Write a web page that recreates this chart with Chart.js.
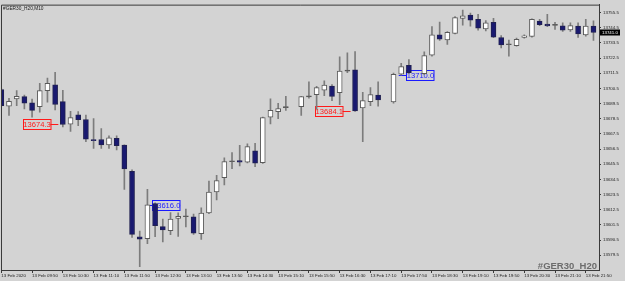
<!DOCTYPE html>
<html>
<head>
<meta charset="utf-8">
<script src="https://cdn.jsdelivr.net/npm/chart.js@4.4.1/dist/chart.umd.min.js"></script>
<style>
  html, body { margin: 0; padding: 0; background: #d3d3d3; }
  canvas { display: block; }
</style>
</head>
<body>
<canvas id="chart" width="625" height="281"></canvas>
<script>
// GER30 M10 candles, bar index 0 = 13 Feb 09:10 (null = no bar drawn)
const opens = [
  13699.7, 13687.5, 13692.8, 13694.5, 13690.0, 13687.3, 13698.8, 13703.1, 13690.9, 13674.5,
  13681.3, 13677.9, 13663.4, 13663.4, 13659.4, 13664.2, 13659.3, 13640.3, 13592.9, 13591.5,
  13617.0, 13600.3, 13597.3, 13606.2, 13607.4, 13607.4, 13595.1, 13610.1, 13625.5, 13635.7,
  13647.3, 13648.2, 13647.0, 13655.2, 13646.6, 13679.7, 13683.6, 13686.5, null,    13687.3,
  13694.3, 13695.9, 13699.2, 13702.2, 13697.4, 13713.0, 13714.0, 13686.3, 13690.9, 13695.6,
  null,    13690.6, 13710.8, 13717.2, null,    13711.2, 13724.6, 13739.3, 13735.7, 13740.3,
  13751.2, 13753.6, 13750.5, 13743.6, 13748.4, 13737.4, 13732.1, 13731.4, 13737.5, 13738.1,
  13749.3, 13747.1, 13746.2, 13745.9, 13742.8, 13745.7, 13739.3, 13745.7
];
const highs = [
  13700.4, 13693.3, 13698.8, 13695.6, 13692.8, 13704.2, 13707.9, 13712.1, 13699.0, 13683.8,
  13683.7, 13681.1, 13678.5, 13671.3, 13666.1, 13666.1, 13659.6, 13641.4, 13597.1, 13627.3,
  13617.5, 13605.8, 13610.5, 13610.2, 13612.9, 13609.4, 13613.9, 13633.2, 13637.5, 13650.2,
  13653.9, 13659.2, 13660.2, 13660.6, 13679.7, 13692.9, 13689.7, 13694.7, null,    13694.7,
  13705.2, 13701.9, 13705.9, 13703.3, 13723.3, 13726.2, 13727.1, 13697.6, 13701.1, 13705.2,
  null,    13711.5, 13718.7, 13721.4, null,    13727.0, 13745.3, 13748.6, 13741.7, 13752.6,
  13757.2, 13755.1, 13754.1, 13749.6, 13751.2, 13738.8, 13735.5, 13736.9, 13739.3, 13750.9,
  13750.5, 13754.1, 13748.4, 13748.1, 13748.1, 13748.1, 13750.5, 13749.4
];
const lows = [
  13687.5, 13680.9, 13688.0, 13685.6, 13679.7, 13683.3, 13690.4, 13684.8, 13672.5, 13669.2,
  13673.5, 13661.8, 13657.0, 13657.0, 13657.0, 13655.9, 13627.3, 13592.4, 13571.2, 13587.9,
  13592.9, 13589.1, 13594.4, 13593.1, 13600.1, 13594.6, 13591.0, 13609.6, 13619.7, 13630.5,
  13642.3, 13644.3, 13646.4, 13643.7, 13646.1, 13674.7, 13678.6, 13684.5, null,    13680.9,
  13693.3, 13685.4, 13695.2, 13691.6, 13688.6, 13711.9, 13683.8, 13661.8, 13688.0, 13687.5,
  null,    13689.7, 13710.0, 13711.2, null,    13710.4, 13723.8, 13735.3, 13732.4, 13740.0,
  13746.4, 13745.6, 13742.6, 13742.1, 13737.3, 13729.8, 13723.8, 13731.0, 13736.9, 13737.7,
  13746.0, 13745.3, 13743.3, 13741.7, 13741.7, 13737.4, 13738.3, 13735.3
];
const closes = [
  13688.0, 13691.1, 13694.7, 13689.7, 13684.5, 13698.8, 13704.2, 13688.8, 13674.3, 13679.3,
  13677.8, 13663.6, 13662.5, 13659.4, 13664.7, 13658.9, 13642.0, 13594.6, 13591.2, 13616.0,
  13601.0, 13597.8, 13605.8, 13607.7, 13607.5, 13595.5, 13610.1, 13625.3, 13633.7, 13647.5,
  13647.4, 13647.0, 13658.2, 13646.3, 13679.3, 13684.5, 13685.9, 13686.7, null,    13694.5,
  13694.4, 13701.0, 13702.8, 13694.6, 13713.1, 13713.1, 13684.1, 13691.6, 13695.9, 13692.1,
  null,    13710.6, 13716.2, 13711.9, null,    13724.2, 13739.3, 13736.2, 13741.2, 13751.8,
  13753.1, 13750.0, 13744.1, 13748.1, 13737.6, 13732.0, 13732.2, 13736.0, 13738.6, 13750.5,
  13746.6, 13745.7, 13746.3, 13742.6, 13746.0, 13740.0, 13745.7, 13741.0
];

// time axis labels, one every 4 bars
const xTickBars = [0, 4, 8, 12, 16, 20, 24, 28, 32, 36, 40, 44, 48, 52, 56, 60, 64, 68, 72, 76];
const xLabels = [
  '13 Feb 2020', '13 Feb 09:50', '13 Feb 10:30', '13 Feb 11:10', '13 Feb 11:50',
  '13 Feb 12:30', '13 Feb 13:10', '13 Feb 13:50', '13 Feb 14:30', '13 Feb 15:10',
  '13 Feb 15:50', '13 Feb 16:30', '13 Feb 17:10', '13 Feb 17:50', '13 Feb 18:30',
  '13 Feb 19:10', '13 Feb 19:50', '13 Feb 20:30', '13 Feb 21:10', '13 Feb 21:50'
];
const yTicks = [
  13579.5, 13590.5, 13601.5, 13612.5, 13623.5, 13634.5, 13645.5, 13656.5, 13667.5,
  13678.5, 13689.5, 13700.5, 13711.5, 13722.5, 13733.5, 13744.5, 13755.5
];

// price tags drawn on the chart
const tagBars = [8, 46, 19, 52];
const tagValues = [13674.3, 13684.1, 13616.0, 13710.0];
const tagColors = ['#ff1a1a', '#ff1a1a', '#1a1aff', '#1a1aff'];
const tagSides = ['left', 'left', 'right', 'right'];

const symbolTitle = '#GER30_H20,M10';
const watermark = '#GER30_H20';
const lastPrice = 13741.0;

const FG = '#3a3a3a';
const BEAR = '#191970';
const WICK = '#7c7c7c';

const idx = opens.map((o, k) => k).filter(k => opens[k] !== null);
const wickData = idx.map(k => ({ x: k, y: [lows[k], highs[k]] }));
const bodyData = idx.map(k => ({ x: k, y: [Math.min(opens[k], closes[k]), Math.max(opens[k], closes[k])] }));
const bodyFill = idx.map(k => {
  const d = closes[k] - opens[k];
  return d > 0.25 ? '#ffffff' : d < -0.25 ? BEAR : '#505050';
});
const bodyBorder = idx.map(k => (closes[k] < opens[k] - 0.25 ? '#202050' : '#5a5a5a'));

const decor = {
  id: 'decor',
  beforeDatasetsDraw(chart) {
    const { ctx } = chart;
    const xs = chart.scales.x, ys = chart.scales.y;
    ctx.save();
    ctx.font = '7.6px "Liberation Sans", Arial, sans-serif';
    ctx.textBaseline = 'middle';
    ctx.lineWidth = 1;
    tagBars.forEach((b, i) => {
      const cx = xs.getPixelForValue(b);
      const py = Math.round(ys.getPixelForValue(tagValues[i])) + 0.5;
      const w = 27.5, h = 10;
      let bx, l1, l2;
      if (tagSides[i] === 'left') {
        bx = cx - 12.5 - w; l1 = cx - 12.5; l2 = cx - 4.5;
      } else {
        bx = cx + 5; l1 = cx - 2.5; l2 = cx + 5;
      }
      ctx.strokeStyle = tagColors[i];
      ctx.beginPath();
      ctx.moveTo(l1, py); ctx.lineTo(l2, py);
      ctx.stroke();
      ctx.strokeRect(Math.round(bx) + 0.5, py - h / 2, w, h);
      ctx.fillStyle = tagColors[i];
      ctx.textAlign = 'center';
      ctx.fillText(tagValues[i].toFixed(1), bx + w / 2 + 0.5, py + 0.5);
    });
    ctx.restore();
  },
  afterDraw(chart) {
    const { ctx, chartArea: a } = chart;
    const ys = chart.scales.y;
    ctx.save();
    ctx.strokeStyle = FG;
    ctx.lineWidth = 1;
    ctx.beginPath();
    ctx.moveTo(a.left + 0.5, a.bottom);
    ctx.lineTo(a.left + 0.5, a.top + 0.5);
    ctx.lineTo(a.right, a.top + 0.5);
    ctx.stroke();

    ctx.fillStyle = '#222';
    ctx.font = '4.8px "Liberation Sans", Arial, sans-serif';
    ctx.textAlign = 'left';
    ctx.textBaseline = 'middle';
    ctx.fillText(symbolTitle, a.left + 2, a.top + 4);

    ctx.fillStyle = '#6c6c6c';
    ctx.font = 'bold 9.5px "Liberation Sans", Arial, sans-serif';
    ctx.textAlign = 'right';
    ctx.textBaseline = 'alphabetic';
    ctx.fillText(watermark, a.right - 2, a.bottom - 1.5);

    const py = ys.getPixelForValue(lastPrice);
    ctx.fillStyle = '#000';
    ctx.fillRect(a.right + 1, py - 3, 20, 6);
    ctx.fillStyle = '#fff';
    ctx.font = '4.4px "Liberation Sans", Arial, sans-serif';
    ctx.textAlign = 'left';
    ctx.textBaseline = 'middle';
    ctx.fillText(lastPrice.toFixed(1), a.right + 3, py + 0.3);
    ctx.restore();
  }
};

new Chart(document.getElementById('chart'), {
  type: 'bar',
  data: {
    datasets: [
      {
        label: 'body',
        data: bodyData,
        order: 0,
        grouped: false,
        barThickness: 5,
        minBarLength: 1,
        borderWidth: 1,
        borderSkipped: false,
        backgroundColor: bodyFill,
        borderColor: bodyBorder,
        clip: 0
      },
      {
        label: 'wick',
        data: wickData,
        order: 1,
        grouped: false,
        barThickness: 1,
        borderWidth: 0,
        backgroundColor: WICK,
        clip: 0
      }
    ]
  },
  options: {
    responsive: false,
    animation: false,
    devicePixelRatio: 1,
    layout: { padding: { left: 1, top: 1, right: 0, bottom: 0 } },
    plugins: { legend: { display: false }, tooltip: { enabled: false } },
    scales: {
      x: {
        type: 'linear',
        min: -0.04,
        max: 77.72,
        offset: false,
        afterFit: s => { s.height = 11; },
        afterBuildTicks: s => { s.ticks = xTickBars.map(v => ({ value: v })); },
        grid: { offset: false, drawOnChartArea: false, tickLength: 3, color: FG },
        border: { display: true, color: FG },
        ticks: {
          autoSkip: false,
          maxRotation: 0,
          align: 'start',
          padding: 0,
          color: '#222',
          font: { family: '"Liberation Sans", Arial, sans-serif', size: 4.4 },
          callback: (v, i) => xLabels[i]
        }
      },
      y: {
        position: 'right',
        min: 13568.8,
        max: 13761.2,
        afterFit: s => { s.width = 26; },
        afterBuildTicks: s => { s.ticks = yTicks.map(v => ({ value: v })); },
        grid: { drawOnChartArea: false, tickLength: 2, color: FG },
        border: { display: true, color: FG },
        ticks: {
          padding: 2,
          color: '#222',
          font: { family: '"Liberation Sans", Arial, sans-serif', size: 4.4 },
          callback: v => Number(v).toFixed(1)
        }
      }
    }
  },
  plugins: [decor]
});
</script>
</body>
</html>
